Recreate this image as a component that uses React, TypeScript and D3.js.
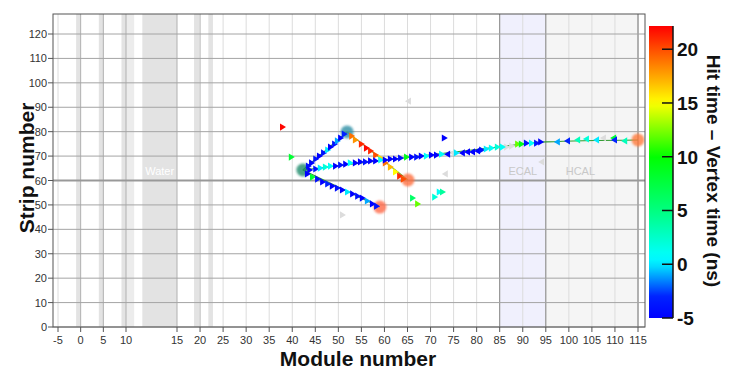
import React from "react";
import * as d3 from "d3";

// ---- data ----
// hits: [module, strip, time(ns), direction(1 = right, -1 = left)]
const trackA: [number, number, number, number][] = [
  [43.6, 65.9, -4, 1], [44.3, 67.2, -5, 1], [45.2, 68.8, -4, 1], [46.0, 70.0, -5, 1],
  [46.9, 71.3, -4, 1], [47.8, 72.5, 0, 1], [48.4, 73.7, -5, 1], [49.3, 74.9, -4, 1],
  [49.9, 76.2, -1, 1], [50.6, 77.4, -5, 1], [51.4, 79.0, -3, 1],
];
const trackB: [number, number, number, number][] = [
  [53.0, 78.2, 19, 1], [53.8, 76.6, 18, 1], [55.1, 74.9, 21, 1], [56.2, 73.3, 22, 1],
  [57.1, 72.1, 21, 1], [58.2, 70.4, 20, 1], [59.3, 69.2, 16, 1], [60.3, 67.2, 19, 1],
  [61.4, 65.5, 17, 1], [62.5, 63.5, 15, 1], [63.4, 61.8, 21, 1], [64.2, 60.6, 20, 1],
];
const trackC: [number, number, number, number][] = [
  [43.4, 62.7, -5, 1], [44.5, 61.4, 8, 1], [45.6, 60.6, -4, 1], [46.7, 59.4, -5, 1],
  [47.8, 58.6, -3, 1], [48.8, 57.7, -5, 1], [49.9, 56.9, -4, 1], [51.0, 56.1, -5, 1],
  [52.1, 55.3, 0, 1], [53.2, 54.5, -5, 1], [54.3, 53.6, -4, 1], [55.3, 52.8, -5, 1],
  [56.4, 51.6, -1, 1], [57.5, 50.4, -5, 1], [58.4, 49.5, -4, 1],
];
const trackD: [number, number, number, number][] = [
  [43.9, 64.3, -5, 1], [45.2, 64.7, -4, 1], [46.2, 65.1, 0, 1], [47.3, 65.5, 2, 1],
  [48.4, 65.9, 1, 1], [49.5, 65.9, -5, 1], [50.6, 66.3, -4, 1], [51.7, 66.7, -5, 1],
  [52.7, 67.2, 1, 1], [53.8, 67.2, -5, 1], [54.9, 67.6, -5, 1], [56.0, 67.6, -4, 1],
  [57.1, 68.0, -5, 1], [58.2, 68.0, -5, 1], [59.3, 68.4, 1, 1], [60.3, 68.4, -5, 1],
  [61.4, 68.8, -5, 1], [62.5, 68.8, -5, 1], [63.6, 69.2, -4, 1], [64.9, 69.6, 9, 1],
  [66.0, 69.6, -5, 1], [67.1, 69.6, -4, 1], [68.1, 70.0, -5, 1], [69.2, 70.0, 1, 1],
  [70.3, 70.4, -5, 1], [71.4, 70.4, -5, 1], [72.5, 70.8, 1, 1], [73.6, 70.8, -5, -1],
  [75.7, 71.3, 0, 1], [76.8, 71.3, -5, -1], [77.9, 71.7, -5, -1], [79.0, 71.7, -5, -1],
  [80.1, 72.1, -5, -1], [81.2, 72.5, -4, 1], [82.2, 72.9, 0, 1], [83.3, 73.3, 1, 1],
  [84.6, 73.7, 2, 1], [85.7, 73.7, 1, 1], [89.0, 74.9, 12, 1], [89.8, 74.9, 9, 1],
  [90.9, 75.3, -4, 1], [92.0, 75.3, 1, 1], [93.1, 75.3, -4, 1], [94.0, 75.8, -5, 1],
  [97.4, 75.8, -1, -1], [99.6, 76.2, -3, -1], [101.8, 76.6, 3, -1], [103.7, 77.0, 2, -1],
  [105.9, 76.6, 0, -1], [109.6, 77.4, 8, -1], [109.8, 76.6, -3, -1], [112.0, 76.2, 3, -1],
];
const isolatedHits: [number, number, number, number][] = [
  [38.0, 81.9, 22, 1], [39.9, 69.6, 8, 1], [73.1, 77.4, -5, 1], [72.0, 55.3, 1, 1],
  [72.7, 55.3, 4, 1], [71.0, 53.2, 2, 1], [66.2, 52.8, 6, 1], [67.3, 50.4, 12, 1],
];
// unmatched (grey) hits: [module, strip, direction]
const greyHits: [number, number, number][] = [
  [74.7, 71.3, -1], [86.6, 73.7, 1], [87.7, 74.1, 1], [107.4, 77.4, -1],
  [65.1, 92.5, -1], [73.1, 62.7, -1], [51.0, 45.9, 1], [94.0, 67.6, -1],
];
// vertices / track ends: [module, strip]
const vertices: [number, number][] = [
  [42.3, 64.3], [51.9, 79.9], [65.1, 60.2], [59.0, 49.1], [115.0, 76.6],
];
// track line paths (module, strip)
const lineA: [number, number][] = [[42.3, 64.3], [51.9, 79.9]];
const lineB: [number, number][] = [[51.9, 79.9], [65.1, 60.2]];
const lineC: [number, number][] = [[42.3, 64.3], [59.0, 49.1]];
const lineD: [number, number][] = [[42.3, 64.3], [60, 68.3], [85, 73.8], [95, 75.8], [115.0, 76.6]];

// passive / detector regions in module units
const bands: [number, number, string][] = [
  [-1, 0, "#e3e3e3"], [4, 5, "#e3e3e3"], [9, 10, "#e3e3e3"], [10, 10.8, "#ececec"],
  [11.6, 15, "#e3e3e3"], [18.7, 19.8, "#e3e3e3"], [21.8, 22.8, "#e3e3e3"],
];
const xTicks = [-5, 0, 5, 10, 15, 20, 25, 30, 35, 40, 45, 50, 55, 60, 65, 70, 75, 80, 85, 90, 95, 100, 105, 110, 115];
const yTicks = [0, 10, 20, 30, 40, 50, 60, 70, 80, 90, 100, 110, 120];
const cTicks = [-5, 0, 5, 10, 15, 20];
const cDomain = [-5, 22.16];
const hueStops = [-5, -3, 0, 5, 10, 15, 22.16];
const hueVals = [240, 232, 185, 150, 120, 60, 0];

export default function App() {
  const W = 747, H = 382;
  const left = 53, right = 645, top = 14, bottom = 327;
  const x = d3.scaleLinear().domain([-5, 10, 15, 115]).range([58, 126, 177, 638]);
  const y = d3.scaleLinear().domain([0, 120]).range([327, 34]);
  const hue = d3.scaleLinear().domain(hueStops).range(hueVals).clamp(true);
  const color = (t: number) => d3.hsl(hue(t), 1, 0.5).formatHex();
  const cy = d3.scaleLinear().domain(cDomain).range([318, 26]);
  const cbX = 649, cbW = 24;

  const tri = (m: number, s: number, dir: number) => {
    const px = x(m), py = y(s);
    const w = 6, h = 3.6;
    if (dir > 0) return `M${px - w / 2},${py - h}L${px + w / 2},${py}L${px - w / 2},${py + h}Z`;
    return `M${px + w / 2},${py - h}L${px - w / 2},${py}L${px + w / 2},${py + h}Z`;
  };
  const line = d3.line<[number, number]>().x(d => x(d[0])).y(d => y(d[1])).curve(d3.curveMonotoneX);
  const allHits = [...trackA, ...trackB, ...trackC, ...trackD, ...isolatedHits];
  const gradStops = d3.range(0, 41).map(i => {
    const t = cDomain[0] + (cDomain[1] - cDomain[0]) * i / 40;
    return { off: i / 40, c: color(t) };
  });
  const font = "'Liberation Sans', Arial, sans-serif";
  const vColors = ["#1f8a6a", "#2f8fa5", "#ff7040", "#ff6a4a", "#ff7a3a"];

  return (
    <svg width={W} height={H} style={{ position: "absolute", left: 0, top: 0 }} fontFamily={font}>
      <defs>
        <linearGradient id="cb" x1="0" y1="1" x2="0" y2="0">
          {gradStops.map((g, i) => <stop key={i} offset={g.off} stopColor={g.c} />)}
        </linearGradient>
        <clipPath id="plot"><rect x={left} y={top} width={right - left} height={bottom - top} /></clipPath>
        <filter id="soft" x="-50%" y="-50%" width="200%" height="200%"><feGaussianBlur stdDeviation="0.8" /></filter>
      </defs>
      <rect x={left} y={top} width={right - left} height={bottom - top} fill="#fff" />
      {/* ECAL / HCAL */}
      <rect x={x(85)} y={top} width={x(95) - x(85)} height={bottom - top} fill="#f0f0fd" />
      <rect x={x(95)} y={top} width={x(115) - x(95)} height={bottom - top} fill="#f5f5f5" />
      {bands.map((b, i) => (
        <rect key={i} x={x(b[0])} y={top} width={x(b[1]) - x(b[0])} height={bottom - top} fill={b[2]} />
      ))}
      {/* vertical grid */}
      {xTicks.map(t => (
        <line key={t} x1={x(t)} x2={x(t)} y1={top} y2={bottom}
          stroke={t >= 0 && t <= 20 ? "#b0b0b0" : "#dcdcdc"} strokeWidth={1} />
      ))}
      <line x1={x(85)} x2={x(85)} y1={top} y2={bottom} stroke="#888" />
      <line x1={x(95)} x2={x(95)} y1={top} y2={bottom} stroke="#888" />
      <line x1={x(115)} x2={x(115)} y1={top} y2={bottom} stroke="#777" />
      {/* horizontal grid */}
      {yTicks.map(t => (
        <line key={t} x1={left} x2={right} y1={y(t)} y2={y(t)} stroke={t === 60 ? "#999" : "#a4a4a4"} strokeWidth={t === 60 ? 2.2 : 1} />
      ))}
      <text x={(x(11.6) + x(15)) / 2} y={y(60) - 6} fill="#fff" fontSize={11} textAnchor="middle">Water</text>
      <text x={(x(85) + x(95)) / 2} y={y(60) - 6} fill="#c8c8c8" fontSize={11} textAnchor="middle">ECAL</text>
      <text x={(x(95) + x(110)) / 2} y={y(60) - 6} fill="#c8c8c8" fontSize={11} textAnchor="middle">HCAL</text>
      <g clipPath="url(#plot)">
        {[lineA, lineB, lineC, lineD].map((l, i) => (
          <path key={i} d={line(l) || ""} fill="none" stroke={i === 1 ? "#7aa822" : "#2e9a2e"} strokeWidth={1.1} />
        ))}
        {greyHits.map((h, i) => <path key={i} d={tri(h[0], h[1], h[2])} fill="#dcdcdc" />)}
        {vertices.map((v, i) => (
          <circle key={i} cx={x(v[0])} cy={y(v[1])} r={6.5} fill={vColors[i]} opacity={0.8} filter="url(#soft)" />
        ))}
        {allHits.map((h, i) => <path key={i} d={tri(h[0], h[1], h[3])} fill={color(h[2])} />)}
      </g>
      <rect x={left} y={top} width={right - left} height={bottom - top} fill="none" stroke="#555" strokeWidth={1} />
      {/* y axis */}
      {yTicks.map(t => (
        <g key={t}>
          <line x1={left - 5} x2={left} y1={y(t)} y2={y(t)} stroke="#555" />
          <text x={left - 6} y={y(t) + 4} fontSize={11} fill="#333" textAnchor="end">{t}</text>
        </g>
      ))}
      {/* x axis */}
      {xTicks.map(t => (
        <g key={t}>
          <line x1={x(t)} x2={x(t)} y1={bottom} y2={bottom + 5} stroke="#555" />
          <text x={x(t)} y={bottom + 17} fontSize={11} fill="#333" textAnchor="middle">{t}</text>
        </g>
      ))}
      <text x={358} y={366} fontSize={21} fontWeight="bold" textAnchor="middle" fill="#111">Module number</text>
      <text transform={`translate(34,168) rotate(-90)`} fontSize={21} fontWeight="bold" textAnchor="middle" fill="#111">Strip number</text>
      {/* colour bar */}
      <rect x={cbX} y={cy(cDomain[1])} width={cbW} height={cy(cDomain[0]) - cy(cDomain[1])} fill="url(#cb)" />
      <line x1={cbX + cbW} x2={cbX + cbW} y1={cy(cDomain[1])} y2={cy(cDomain[0])} stroke="#111" strokeWidth={1.5} />
      {cTicks.map(t => (
        <g key={t}>
          <line x1={cbX + cbW - 11} x2={cbX + cbW} y1={cy(t)} y2={cy(t)} stroke="#111" strokeWidth={1.5} />
          <text x={cbX + cbW + 4} y={cy(t) + 7} fontSize={19} fontWeight="bold" fill="#111">{t}</text>
        </g>
      ))}
      <text transform={`translate(707,171) rotate(90)`} fontSize={19} fontWeight="bold" textAnchor="middle" fill="#111">Hit time – Vertex time (ns)</text>
    </svg>
  );
}
